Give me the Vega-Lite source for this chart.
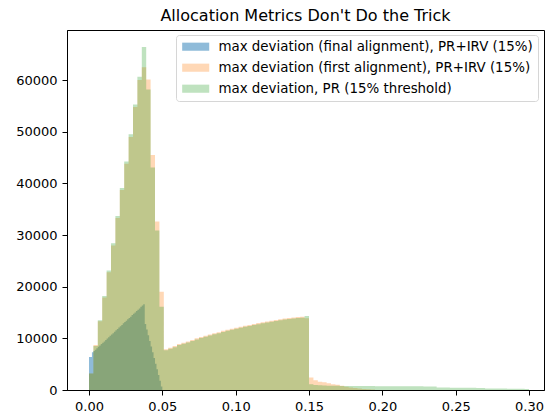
{
  "$schema": "https://vega.github.io/schema/vega-lite/v6.json",
  "width": 477,
  "height": 360,
  "autosize": {"type": "none"},
  "padding": {"left": 67, "top": 30, "right": 1, "bottom": 23},
  "title": {"text": "Allocation Metrics Don't Do the Trick", "fontSize": 16, "fontWeight": "normal", "font": "DejaVu Sans", "color": "black", "offset": 6, "anchor": "middle"},
  "datasets": {
    "fin": [
      {"a":0,"n":6400},{"a":0.001,"n":6400},{"a":0.002,"n":7300},{"a":0.003,"n":7550},{"a":0.004,"n":7800},{"a":0.005,"n":8100},{"a":0.006,"n":8350},{"a":0.007,"n":8600},{"a":0.008,"n":8900},{"a":0.009,"n":9150},
      {"a":0.010,"n":9400},{"a":0.011,"n":9700},{"a":0.012,"n":9950},{"a":0.013,"n":10200},{"a":0.014,"n":10500},{"a":0.015,"n":10750},{"a":0.016,"n":11000},{"a":0.017,"n":11300},{"a":0.018,"n":11550},{"a":0.019,"n":11800},
      {"a":0.020,"n":12100},{"a":0.021,"n":12350},{"a":0.022,"n":12600},{"a":0.023,"n":12900},{"a":0.024,"n":13150},{"a":0.025,"n":13400},{"a":0.026,"n":13700},{"a":0.027,"n":13950},{"a":0.028,"n":14200},{"a":0.029,"n":14500},
      {"a":0.030,"n":14750},{"a":0.031,"n":15000},{"a":0.032,"n":15300},{"a":0.033,"n":15550},{"a":0.034,"n":15800},{"a":0.035,"n":16100},{"a":0.036,"n":16350},{"a":0.037,"n":16600},{"a":0.038,"n":12800},{"a":0.039,"n":11700},
      {"a":0.040,"n":10600},{"a":0.041,"n":9500},{"a":0.042,"n":8400},{"a":0.043,"n":7300},{"a":0.044,"n":6200},{"a":0.045,"n":5100},{"a":0.046,"n":4000},{"a":0.047,"n":2900},{"a":0.048,"n":1800},{"a":0.049,"n":700},
      {"a":0.050,"n":0}
    ],
    "first": [
      {"a":0,"n":3200},{"a":0.003,"n":8700},{"a":0.006,"n":13300},{"a":0.009,"n":17900},{"a":0.012,"n":22800},{"a":0.015,"n":28000},{"a":0.018,"n":33300},{"a":0.021,"n":38700},{"a":0.024,"n":43800},{"a":0.027,"n":49000},
      {"a":0.030,"n":54800},{"a":0.033,"n":60000},{"a":0.036,"n":62500},{"a":0.039,"n":60100},{"a":0.042,"n":45500},{"a":0.045,"n":32600},{"a":0.048,"n":19000},
      {"a":0.051,"n":7900},{"a":0.054,"n":8200},{"a":0.057,"n":8500},{"a":0.060,"n":8900},{"a":0.063,"n":9150},{"a":0.066,"n":9400},{"a":0.069,"n":9700},{"a":0.072,"n":10000},{"a":0.075,"n":10250},{"a":0.078,"n":10500},
      {"a":0.081,"n":10750},{"a":0.084,"n":11000},{"a":0.087,"n":11200},{"a":0.090,"n":11450},{"a":0.093,"n":11650},{"a":0.096,"n":11850},{"a":0.099,"n":12050},{"a":0.102,"n":12250},{"a":0.105,"n":12450},{"a":0.108,"n":12600},
      {"a":0.111,"n":12800},{"a":0.114,"n":12950},{"a":0.117,"n":13100},{"a":0.120,"n":13250},{"a":0.123,"n":13400},{"a":0.126,"n":13550},{"a":0.129,"n":13700},{"a":0.132,"n":13850},{"a":0.135,"n":13950},{"a":0.138,"n":14050},
      {"a":0.141,"n":14150},{"a":0.144,"n":14200},{"a":0.147,"n":13900},
      {"a":0.150,"n":2400},{"a":0.153,"n":1900},{"a":0.156,"n":1600},{"a":0.159,"n":1500},{"a":0.162,"n":1300},{"a":0.165,"n":1100},{"a":0.168,"n":1000},{"a":0.171,"n":800},{"a":0.174,"n":650},{"a":0.177,"n":500},
      {"a":0.180,"n":400},{"a":0.183,"n":300},{"a":0.186,"n":200},{"a":0.189,"n":150},{"a":0.192,"n":100},{"a":0.195,"n":0}
    ],
    "pr": [
      {"a":0,"n":3200},{"a":0.003,"n":8500},{"a":0.006,"n":13500},{"a":0.009,"n":18200},{"a":0.012,"n":23150},{"a":0.015,"n":28400},{"a":0.018,"n":33700},{"a":0.021,"n":39100},{"a":0.024,"n":44250},{"a":0.027,"n":49500},
      {"a":0.030,"n":55300},{"a":0.033,"n":60650},{"a":0.036,"n":66400},{"a":0.039,"n":58200},{"a":0.042,"n":43100},{"a":0.045,"n":30900},{"a":0.048,"n":16100},
      {"a":0.051,"n":7700},{"a":0.054,"n":8000},{"a":0.057,"n":8300},{"a":0.060,"n":8700},{"a":0.063,"n":8950},{"a":0.066,"n":9200},{"a":0.069,"n":9500},{"a":0.072,"n":9800},{"a":0.075,"n":10050},{"a":0.078,"n":10300},
      {"a":0.081,"n":10550},{"a":0.084,"n":10800},{"a":0.087,"n":11000},{"a":0.090,"n":11250},{"a":0.093,"n":11450},{"a":0.096,"n":11650},{"a":0.099,"n":11850},{"a":0.102,"n":12050},{"a":0.105,"n":12250},{"a":0.108,"n":12400},
      {"a":0.111,"n":12600},{"a":0.114,"n":12750},{"a":0.117,"n":12900},{"a":0.120,"n":13050},{"a":0.123,"n":13200},{"a":0.126,"n":13350},{"a":0.129,"n":13500},{"a":0.132,"n":13650},{"a":0.135,"n":13750},{"a":0.138,"n":13850},
      {"a":0.141,"n":13950},{"a":0.144,"n":14000},{"a":0.147,"n":14350},
      {"a":0.150,"n":1100},{"a":0.153,"n":950},{"a":0.156,"n":900},{"a":0.159,"n":850},{"a":0.162,"n":820},{"a":0.165,"n":800},{"a":0.168,"n":800},{"a":0.171,"n":780},{"a":0.174,"n":780},{"a":0.177,"n":770},
      {"a":0.180,"n":770},{"a":0.183,"n":770},{"a":0.186,"n":760},{"a":0.189,"n":760},{"a":0.192,"n":760},{"a":0.195,"n":750},{"a":0.198,"n":750},{"a":0.201,"n":750},{"a":0.204,"n":740},{"a":0.207,"n":740},
      {"a":0.210,"n":740},{"a":0.213,"n":730},{"a":0.216,"n":730},{"a":0.219,"n":720},{"a":0.222,"n":720},{"a":0.225,"n":710},{"a":0.228,"n":700},{"a":0.231,"n":700},{"a":0.234,"n":690},{"a":0.237,"n":480},
      {"a":0.240,"n":470},{"a":0.243,"n":460},{"a":0.246,"n":450},{"a":0.249,"n":450},{"a":0.252,"n":440},{"a":0.255,"n":430},{"a":0.258,"n":430},{"a":0.261,"n":420},{"a":0.264,"n":410},{"a":0.267,"n":400},
      {"a":0.270,"n":300},{"a":0.273,"n":300},{"a":0.276,"n":290},{"a":0.279,"n":280},{"a":0.282,"n":270},{"a":0.285,"n":260},{"a":0.288,"n":250},{"a":0.291,"n":240},{"a":0.294,"n":220},{"a":0.297,"n":200},{"a":0.300,"n":0}
    ]
  },
  "encoding": {
    "x": {"field": "a", "type": "quantitative", "scale": {"domain": [-0.015, 0.3102], "nice": false, "zero": false, "padding": 0},
      "axis": {"title": null, "grid": false, "values": [0, 0.05, 0.1, 0.15, 0.2, 0.25, 0.3], "format": ".2f"}},
    "y": {"field": "n", "type": "quantitative", "scale": {"domain": [0, 69700], "nice": false, "padding": 0},
      "axis": {"title": null, "grid": false, "values": [0, 10000, 20000, 30000, 40000, 50000, 60000], "format": "d"}},
    "y2": {"datum": 0}
  },
  "layer": [
    {"data": {"name": "fin"}, "mark": {"type": "area", "interpolate": "step-after", "opacity": 1},
      "encoding": {"color": {"datum": "max deviation (final alignment), PR+IRV (15%)", "type": "nominal",
        "scale": {"domain": ["max deviation (final alignment), PR+IRV (15%)", "max deviation (first alignment), PR+IRV (15%)", "max deviation, PR (15% threshold)"], "range": ["rgba(31,119,180,0.5)", "rgba(255,127,14,0.3)", "rgba(44,160,44,0.3)"]},
        "legend": {"title": null}}}},
    {"data": {"name": "first"}, "mark": {"type": "area", "interpolate": "step-after", "opacity": 1},
      "encoding": {"color": {"datum": "max deviation (first alignment), PR+IRV (15%)", "type": "nominal"}}},
    {"data": {"name": "pr"}, "mark": {"type": "area", "interpolate": "step-after", "opacity": 1},
      "encoding": {"color": {"datum": "max deviation, PR (15% threshold)", "type": "nominal"}}}
  ],
  "config": {
    "font": "DejaVu Sans",
    "view": {"stroke": "black", "strokeWidth": 1},
    "axis": {"domainColor": "black", "domainWidth": 1, "tickColor": "black", "tickSize": 5, "tickWidth": 1, "labelFont": "DejaVu Sans", "labelFontSize": 13, "labelColor": "black", "labelPadding": 5},
    "legend": {
      "orient": "none", "legendX": 109, "legendY": 5,
      "fillColor": "white", "strokeColor": "#d6d6d6", "cornerRadius": 3, "padding": 5,
      "labelFont": "DejaVu Sans", "labelFontSize": 13.4, "labelColor": "black", "labelLimit": 500,
      "symbolType": "M-2.5,-0.75L2.5,-0.75L2.5,0.75L-2.5,0.75Z", "symbolSize": 117, "symbolOffset": 8,
      "symbolOpacity": 1, "symbolStrokeWidth": 0, "labelOffset": 16, "rowPadding": 6
    }
  }
}
